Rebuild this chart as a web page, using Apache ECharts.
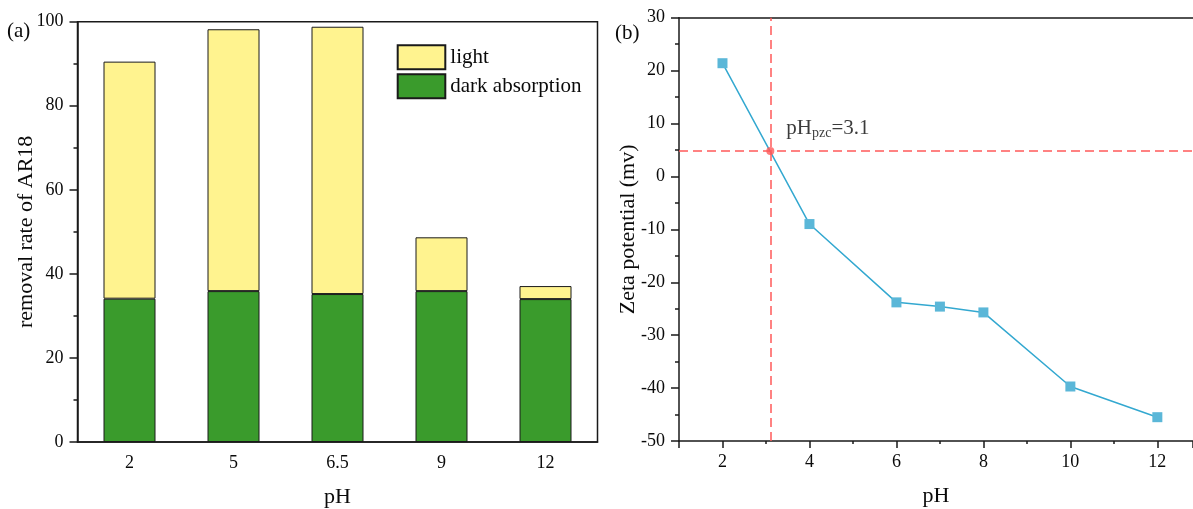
<!DOCTYPE html>
<html>
<head>
<meta charset="utf-8">
<script src="https://cdn.jsdelivr.net/npm/echarts@6/dist/echarts.min.js"></script>
<style>
  html, body { margin: 0; padding: 0; background: #ffffff; }
  #chart { width: 1193px; height: 509px; }
</style>
</head>
<body>
<div id="chart"></div>
<script>
// (a) AR18 removal at each pH: dark absorption plus the extra removal under light
const phCategories = ['2', '5', '6.5', '9', '12'];
const darkAbsorption = [34.1, 35.9, 35.2, 35.9, 34.0];
const lightRemoval = [56.4, 62.3, 63.6, 12.8, 3.1];

// (b) zeta potential against pH
const zetaPH = [2, 4, 6, 7, 8, 10, 12];
const zetaPotential = [21.4, -9.0, -23.8, -24.6, -25.7, -39.7, -45.5];

// point of zero charge
const pzcPH = 3.1;
const pzcZeta = 4.8;

const FONT = 'Liberation Serif';
const INK = '#0a0a0a';
const AXIS = '#1a1a1a';
const RED = '#ff5a5a';

const axisLineStyle = { color: AXIS, width: 1.5 };
const tickLabel = { color: INK, fontFamily: FONT, fontSize: 18 };
const nameStyle = { color: INK, fontFamily: FONT, fontSize: 22 };

const chart = echarts.init(document.getElementById('chart'), null, { renderer: 'canvas' });

chart.setOption({
  animation: false,
  backgroundColor: '#ffffff',
  textStyle: { fontFamily: FONT },
  grid: [
    {
      left: 77.5, top: 21.7, width: 520, height: 420.3, outerBoundsMode: 'none',
      show: true, borderColor: AXIS, borderWidth: 1.5
    },
    // the pH axis runs on past the right edge of the page, so this panel is left open there
    { left: 679, top: 17.7, width: 514, height: 423.3, outerBoundsMode: 'none' }
  ],
  legend: {
    data: ['light', 'dark absorption'],
    orient: 'vertical',
    left: 396.7,
    top: 44.3,
    padding: 0,
    itemWidth: 47.6,
    itemHeight: 24,
    itemGap: 3,
    icon: 'rect',
    textStyle: { color: INK, fontFamily: FONT, fontSize: 21 }
  },
  xAxis: [
    {
      type: 'category', gridIndex: 0, data: phCategories, position: 'bottom',
      axisLine: { lineStyle: axisLineStyle },
      axisTick: { alignWithLabel: true, length: 6, lineStyle: axisLineStyle },
      axisLabel: Object.assign({ margin: 12 }, tickLabel),
      splitLine: { show: false },
      name: 'pH', nameLocation: 'middle', nameGap: 44, nameMoveOverlap: false, nameTextStyle: nameStyle
    },
    {
      // short ticks on the category boundaries
      type: 'category', gridIndex: 0, data: phCategories, position: 'bottom',
      axisLine: { show: false },
      axisTick: { length: 3, lineStyle: axisLineStyle },
      axisLabel: { show: false },
      splitLine: { show: false }
    },
    {
      type: 'value', gridIndex: 1, min: 1, max: 12.82, splitNumber: 6, position: 'bottom',
      axisLine: { onZero: false, lineStyle: axisLineStyle },
      axisTick: { length: 7, lineStyle: axisLineStyle },
      axisLabel: Object.assign({
        margin: 12,
        formatter: v => (v % 2 === 0 ? String(v) : '')
      }, tickLabel),
      splitLine: { show: false },
      name: 'pH', nameLocation: 'middle', nameGap: 44, nameMoveOverlap: false, nameTextStyle: nameStyle
    },
    {
      // short ticks at odd pH values
      type: 'value', gridIndex: 1, min: 1, max: 12.82, interval: 2, position: 'bottom',
      axisLine: { show: false, onZero: false },
      axisTick: { length: 3, lineStyle: axisLineStyle },
      axisLabel: { show: false },
      splitLine: { show: false }
    },
    {
      // top frame line of panel (b)
      type: 'value', gridIndex: 1, min: 1, max: 12.82, position: 'top',
      axisLine: { onZero: false, lineStyle: axisLineStyle },
      axisTick: { show: false },
      axisLabel: { show: false },
      splitLine: { show: false }
    }
  ],
  yAxis: [
    {
      type: 'value', gridIndex: 0, min: 0, max: 100, interval: 20,
      axisLine: { show: true, lineStyle: axisLineStyle },
      axisTick: { show: true, length: 8, lineStyle: axisLineStyle },
      minorTick: { show: true, splitNumber: 2, length: 4, lineStyle: axisLineStyle },
      axisLabel: Object.assign({ margin: 14 }, tickLabel),
      splitLine: { show: false },
      minorSplitLine: { show: false },
      name: 'removal rate of AR18', nameLocation: 'middle', nameGap: 40, nameMoveOverlap: false,
      nameTextStyle: nameStyle
    },
    {
      type: 'value', gridIndex: 1, min: -50, max: 30, interval: 10,
      axisLine: { show: true, onZero: false, lineStyle: axisLineStyle },
      axisTick: { show: true, length: 8, lineStyle: axisLineStyle },
      minorTick: { show: true, splitNumber: 2, length: 4, lineStyle: axisLineStyle },
      axisLabel: Object.assign({ margin: 14 }, tickLabel),
      splitLine: { show: false },
      minorSplitLine: { show: false },
      name: 'Zeta potential (mv)', nameLocation: 'middle', nameGap: 40, nameMoveOverlap: false,
      nameTextStyle: nameStyle
    }
  ],
  graphic: [
    { type: 'text', left: 7, top: 21, style: { text: '(a)', font: '21px "Liberation Serif"', fill: INK } },
    { type: 'text', left: 615, top: 23, style: { text: '(b)', font: '21px "Liberation Serif"', fill: INK } }
  ],
  series: [
    {
      name: 'dark absorption', type: 'bar', xAxisIndex: 0, yAxisIndex: 0, stack: 'removal',
      data: darkAbsorption, barWidth: '50%',
      itemStyle: { color: '#3a9b2c', borderColor: AXIS, borderWidth: 1 }
    },
    {
      name: 'light', type: 'bar', xAxisIndex: 0, yAxisIndex: 0, stack: 'removal',
      data: lightRemoval, barWidth: '50%',
      itemStyle: { color: '#fff38f', borderColor: AXIS, borderWidth: 1 }
    },
    {
      name: 'zeta', type: 'line', xAxisIndex: 2, yAxisIndex: 1,
      data: zetaPH.map((x, i) => [x, zetaPotential[i]]),
      symbol: 'rect', symbolSize: 10, showAllSymbol: true,
      lineStyle: { color: '#33a8d0', width: 1.5 },
      itemStyle: { color: '#5bb7d8' },
      markLine: {
        silent: true, symbol: 'none', animation: false,
        label: { show: false },
        lineStyle: { color: RED, width: 1.5, type: [9, 5] },
        data: [{ xAxis: pzcPH }, { yAxis: pzcZeta }]
      },
      z: 3
    },
    {
      name: 'pzc', type: 'scatter', xAxisIndex: 2, yAxisIndex: 1,
      data: [[pzcPH, pzcZeta]],
      symbol: 'circle', symbolSize: 8,
      itemStyle: { color: RED },
      label: {
        show: true, position: 'right', distance: 12, offset: [0, -23],
        color: INK, textBorderWidth: 0,
        formatter: '{a|pH}{b|pzc}{a|=' + pzcPH + '}',
        rich: {
          a: { fontFamily: FONT, fontSize: 21, color: INK, lineHeight: 24 },
          b: { fontFamily: FONT, fontSize: 14, color: INK, lineHeight: 11, verticalAlign: 'bottom' }
        }
      },
      z: 4
    }
  ]
});
</script>
</body>
</html>
